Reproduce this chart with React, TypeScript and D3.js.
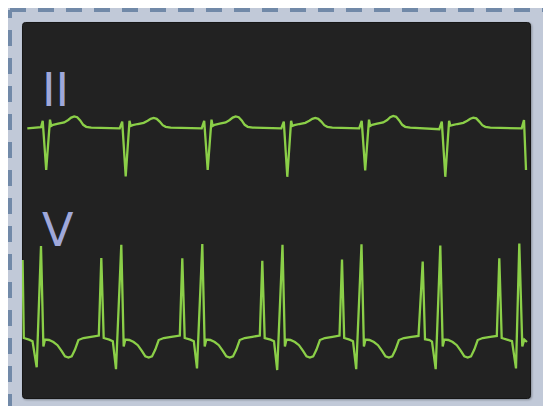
import { useEffect, useRef } from 'react';
import * as d3 from 'd3';

// [time in s, amplitude in mV]
type Sample = [number, number];

const LEAD_NAMES = ['II', 'V'];

const leadII: Sample[] = [
  [0.053, -0.01], [0.19, 0.02], [0.207, 0.18], [0.242, -1.05], [0.28, 0.21], [0.292, 0.05], [0.312, 0.08], [0.362, 0.11], [0.422, 0.14], [0.462, 0.2], [0.492, 0.26], [0.522, 0.29], [0.552, 0.27], [0.582, 0.19], [0.612, 0.08], [0.642, 0.03], [0.692, 0.01],
  [0.977, -0.01], [1.002, 0.16], [1.037, -1.21], [1.075, 0.18], [1.087, 0.05], [1.107, 0.07], [1.157, 0.1], [1.217, 0.13], [1.257, 0.18], [1.287, 0.23], [1.317, 0.25], [1.347, 0.23], [1.377, 0.16], [1.407, 0.07], [1.437, 0.03], [1.487, 0.01],
  [1.797, -0.01], [1.822, 0.18], [1.857, -1.05], [1.895, 0.21], [1.907, 0.05], [1.927, 0.08], [1.977, 0.11], [2.037, 0.14], [2.077, 0.2], [2.107, 0.26], [2.137, 0.29], [2.167, 0.27], [2.197, 0.19], [2.227, 0.08], [2.257, 0.03], [2.307, 0.01],
  [2.593, -0.01], [2.618, 0.16], [2.653, -1.22], [2.691, 0.18], [2.703, 0.05], [2.723, 0.07], [2.773, 0.1], [2.833, 0.13], [2.873, 0.18], [2.903, 0.23], [2.933, 0.25], [2.963, 0.23], [2.993, 0.16], [3.023, 0.07], [3.053, 0.03], [3.103, 0.01],
  [3.372, -0.01], [3.397, 0.18], [3.432, -1.06], [3.47, 0.21], [3.482, 0.05], [3.502, 0.08], [3.552, 0.11], [3.612, 0.14], [3.652, 0.2], [3.682, 0.27], [3.712, 0.3], [3.742, 0.28], [3.772, 0.19], [3.802, 0.08], [3.832, 0.03], [3.882, 0.01],
  [4.173, -0.03], [4.198, 0.16], [4.233, -1.22], [4.271, 0.18], [4.283, 0.06], [4.303, 0.07], [4.353, 0.1], [4.413, 0.13], [4.453, 0.18], [4.483, 0.23], [4.513, 0.26], [4.543, 0.24], [4.573, 0.16], [4.603, 0.07], [4.633, 0.03], [4.683, 0.01],
  [4.997, -0.01], [5.02, 0.2], [5.04, -1.05],
];

const leadV: Sample[] = [
  [0.006, 1.95], [0.018, 0.0], [0.07, -0.04], [0.105, -0.08], [0.147, -0.73], [0.19, 2.3], [0.214, -0.21], [0.23, -0.04], [0.27, -0.05], [0.314, -0.1], [0.355, -0.18], [0.397, -0.33], [0.43, -0.46], [0.464, -0.49], [0.497, -0.46], [0.53, -0.29], [0.564, -0.05], [0.614, 0.0], [0.69, 0.03],
  [0.768, 0.06], [0.793, 2.0], [0.817, 0.0], [0.873, -0.04], [0.908, -0.08], [0.94, -0.78], [0.993, 2.33], [1.017, -0.21], [1.033, -0.04], [1.073, -0.05], [1.117, -0.1], [1.158, -0.18], [1.2, -0.33], [1.233, -0.46], [1.267, -0.49], [1.3, -0.46], [1.333, -0.29], [1.367, -0.05], [1.417, 0.0], [1.493, 0.03],
  [1.578, 0.06], [1.603, 1.99], [1.627, 0.0], [1.683, -0.04], [1.718, -0.08], [1.75, -0.76], [1.803, 2.35], [1.827, -0.21], [1.843, -0.04], [1.883, -0.05], [1.927, -0.1], [1.968, -0.18], [2.01, -0.33], [2.043, -0.46], [2.077, -0.49], [2.11, -0.46], [2.143, -0.29], [2.177, -0.05], [2.227, 0.0], [2.303, 0.03],
  [2.378, 0.06], [2.403, 1.93], [2.427, 0.0], [2.485, -0.04], [2.52, -0.08], [2.552, -0.8], [2.605, 2.33], [2.629, -0.21], [2.645, -0.04], [2.685, -0.05], [2.729, -0.1], [2.77, -0.18], [2.812, -0.33], [2.845, -0.46], [2.879, -0.49], [2.912, -0.46], [2.945, -0.29], [2.979, -0.05], [3.029, 0.0], [3.105, 0.03],
  [3.175, 0.06], [3.2, 1.96], [3.222, 0.0], [3.275, -0.04], [3.31, -0.08], [3.342, -0.78], [3.395, 2.34], [3.419, -0.21], [3.435, -0.04], [3.475, -0.05], [3.519, -0.1], [3.56, -0.18], [3.602, -0.33], [3.635, -0.46], [3.669, -0.49], [3.702, -0.46], [3.735, -0.29], [3.769, -0.05], [3.819, 0.0], [3.895, 0.03],
  [3.965, 0.05], [4.007, 1.91], [4.03, -0.03], [4.075, -0.05], [4.1, -0.09], [4.137, -0.78], [4.183, 2.31], [4.207, -0.21], [4.223, -0.04], [4.263, -0.05], [4.307, -0.1], [4.348, -0.18], [4.39, -0.33], [4.423, -0.46], [4.457, -0.49], [4.49, -0.46], [4.523, -0.29], [4.557, -0.05], [4.607, 0.0], [4.683, 0.03],
  [4.748, 0.05], [4.773, 1.99], [4.797, 0.0], [4.85, -0.04], [4.9, -0.08], [4.94, -0.76], [4.973, 2.36], [5.003, -0.21], [5.023, -0.04], [5.05, -0.1],
];

const TIME_DOMAIN: [number, number] = [0, 5.09];
const MV_DOMAIN: [number, number] = [-1.5, 1.5];

export default function App() {
  const svgRef = useRef<SVGSVGElement>(null);

  useEffect(() => {
    if (!svgRef.current) return;

    const width = 543;
    const height = 406;
    const panel = { left: 22, top: 22, width: 509, height: 377 };

    const svg = d3.select(svgRef.current);
    svg.selectAll('*').remove();

    const defs = svg.append('defs');
    const shadow = defs.append('filter').attr('id', 'panel-shadow')
      .attr('x', '-5%').attr('y', '-5%').attr('width', '110%').attr('height', '110%');
    shadow.append('feDropShadow')
      .attr('dx', 1).attr('dy', 1).attr('stdDeviation', 1)
      .attr('flood-color', '#000').attr('flood-opacity', 0.3);
    defs.append('clipPath').attr('id', 'panel-clip')
      .append('rect')
      .attr('x', panel.left).attr('y', panel.top)
      .attr('width', panel.width).attr('height', panel.height);

    // outer frame with dashed border (runs past the window edge)
    svg.append('rect')
      .attr('x', 8).attr('y', 8)
      .attr('width', width + 40).attr('height', height + 40)
      .attr('fill', '#c1c9d8');
    svg.append('line')
      .attr('x1', 10).attr('x2', width + 40).attr('y1', 10).attr('y2', 10)
      .attr('stroke', '#7189a8').attr('stroke-width', 4)
      .attr('stroke-dasharray', '16 12');
    svg.append('line')
      .attr('x1', 10).attr('x2', 10).attr('y1', 10).attr('y2', height + 40)
      .attr('stroke', '#7189a8').attr('stroke-width', 4)
      .attr('stroke-dasharray', '16 12').attr('stroke-dashoffset', 8);

    // monitor panel
    svg.append('rect')
      .attr('x', panel.left + 0.5).attr('y', panel.top + 0.5)
      .attr('width', panel.width - 1).attr('height', panel.height - 1)
      .attr('rx', 3)
      .attr('fill', '#222222')
      .attr('stroke', '#141414')
      .attr('filter', 'url(#panel-shadow)');

    const x = d3.scaleLinear().domain(TIME_DOMAIN).range([panel.left, panel.left + panel.width]);
    const laneCenter = d3.scalePoint<string>().domain(LEAD_NAMES).range([128, 338]);
    const lanePx = 120;

    const series: Record<string, Sample[]> = { II: leadII, V: leadV };
    const labelY: Record<string, number> = { II: 106, V: 246 };

    const g = svg.append('g').attr('clip-path', 'url(#panel-clip)');

    LEAD_NAMES.forEach(name => {
      const c = laneCenter(name) || 0;
      const y = d3.scaleLinear().domain(MV_DOMAIN).range([c + lanePx / 2, c - lanePx / 2]);
      const line = d3.line<Sample>().x(d => x(d[0])).y(d => y(d[1]));

      g.append('path')
        .datum(series[name])
        .attr('d', line)
        .attr('fill', 'none')
        .attr('stroke', '#8bcf48')
        .attr('stroke-width', 2.3);

      svg.append('text')
        .attr('x', 42)
        .attr('y', labelY[name])
        .attr('font-family', '"DejaVu Sans", sans-serif')
        .attr('font-size', 46)
        .attr('fill', '#9fa8da')
        .text(name);
    });
  }, []);

  return (
    <svg
      ref={svgRef}
      width={543}
      height={406}
      style={{ position: 'absolute', left: 0, top: 0, display: 'block' }}
    />
  );
}
